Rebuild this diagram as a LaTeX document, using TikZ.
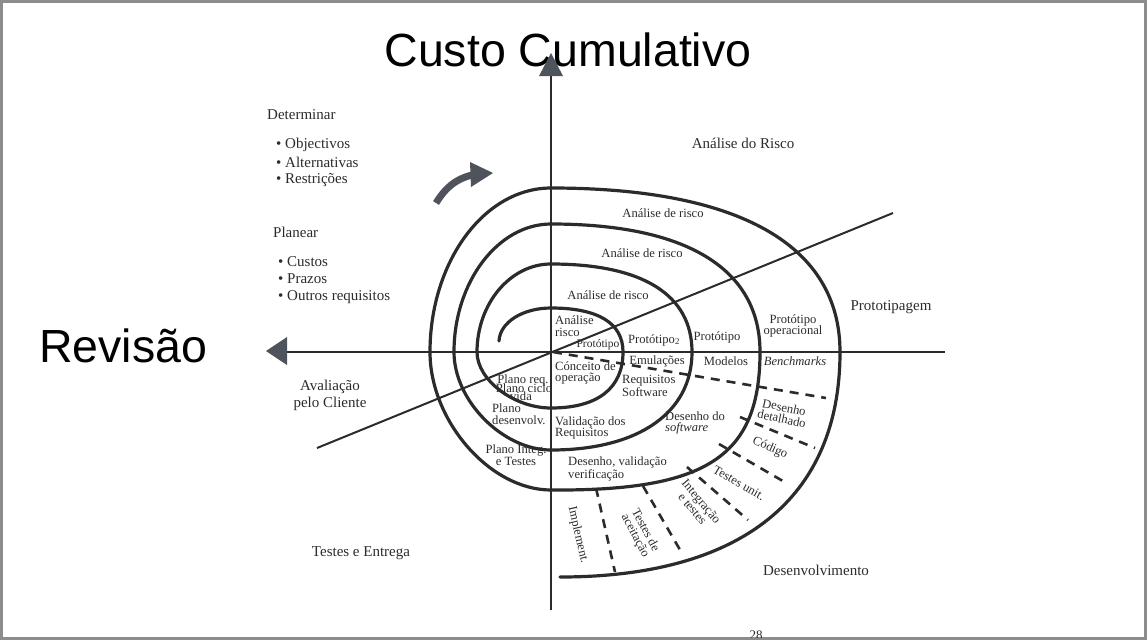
\documentclass[tikz,border=0pt]{standalone}
\usepackage{fontspec}
\setmainfont{Liberation Serif}
\newfontfamily\headfont{Liberation Sans}
\usetikzlibrary{calc}
\definecolor{ink}{HTML}{2B2B2B}
\definecolor{tipgray}{HTML}{4F535B}
\definecolor{framegray}{HTML}{8C8C8C}
\tikzset{
  spiral/.style={line width=3.2pt, draw=ink, line cap=round},
  axis/.style={line width=1.6pt, draw=ink},
  cutline/.style={line width=2.6pt, draw=ink, dash pattern=on 9pt off 7pt},
  lbl/.style={inner sep=0pt, text=ink, font=\fontsize{12.6}{11.5}\selectfont},
  biglbl/.style={inner sep=0pt, text=ink, font=\fontsize{15}{17}\selectfont},
  head/.style={inner sep=0pt, font=\headfont\fontsize{46.5}{50}\selectfont},
  tipfill/.style={fill=tipgray, draw=none}
}

\begin{document}
\begin{tikzpicture}[x=1pt,y=-1pt]
		%%%%% START %%%%%
		\useasboundingbox (0,0) rectangle (1147,643);
		\draw[framegray, line width=3pt] (1.5,1.5) rectangle (1145.5,638.5);
		
		% headings of the axes
		\node[head] (custo) at (568,50) {Custo Cumulativo};
		\node[head] (revisao) at (123,346) {Revisão};
		
		% axes and diagonal
		\draw[axis] (551,72) -- (551,610);
		\draw[axis] (284,352) -- (945,352);
		\draw[line width=2pt, ink] (317,448) -- (893,213);
		\fill[tipfill] (551,53) -- (563,76) -- (539,76) -- cycle;
		\fill[tipfill] (266,351) -- (287,337) -- (287,365) -- cycle;
		
		% turning arrow
		\draw[line width=7pt, tipgray] (436,203) .. controls (446,187) and (456,179) .. (472,175);
		\fill[tipfill] (470,162) -- (493,173) -- (471,187) -- cycle;
		
		% the spiral
		\draw[spiral] (499,341)
		  .. controls (500,322) and (523,308) .. (551,308)
		  .. controls (598,308) and (623,323) .. (623,352)
		  .. controls (623,388) and (598,408) .. (551,408)
		  .. controls (514,408) and (477,380) .. (477,352)
		  .. controls (477,304) and (510,264) .. (551,264)
		  .. controls (643,264) and (692,295) .. (692,352)
		  .. controls (692,413) and (638,450) .. (551,450)
		  .. controls (503,450) and (454,401) .. (454,352)
		  .. controls (454,282) and (498,224) .. (551,224)
		  .. controls (687,224) and (760,269) .. (760,352)
		  .. controls (760,458) and (705,491) .. (551,490)
		  .. controls (490,490) and (430,421) .. (430,352)
		  .. controls (430,262) and (484,188) .. (551,188)
		  .. controls (739,188) and (840,245) .. (840,352)
		  .. controls (840,498) and (742,577) .. (560,577);
		
		% dashed cuts of the development turn
		\draw[cutline] (553,352) -- (826,398);
		\draw[cutline] (740,417) -- (815,448);
		\draw[cutline] (719,444) -- (788,484);
		\draw[cutline] (687,467) -- (748,520);
		\draw[cutline] (643,486) -- (683,555);
		\draw[cutline] (596,488) -- (615,572);
		
		% quadrant texts
		\node[biglbl, anchor=west] (determinar) at (267,115) {Determinar};
		\node[biglbl, anchor=west] (objectivos) at (276,145) {\textbullet\ Objectivos};
		\node[biglbl, anchor=west] (alternativas) at (276,162) {\textbullet\ Alternativas};
		\node[biglbl, anchor=west] (restricoes) at (276,180) {\textbullet\ Restrições};
		\node[biglbl, anchor=west] (planear) at (273,232) {Planear};
		\node[biglbl, anchor=west] (custos) at (278,262) {\textbullet\ Custos};
		\node[biglbl, anchor=west] (prazos) at (278,279) {\textbullet\ Prazos};
		\node[biglbl, anchor=west] (outros) at (278,297) {\textbullet\ Outros requisitos};
		\node[biglbl] (risco) at (743,143) {Análise do Risco};
		\node[biglbl] (prototipagem) at (891,307) {Prototipagem};
		\node[biglbl, align=center] (avaliacao) at (330,395) {Avaliação\\pelo Cliente};
		\node[biglbl] (entrega) at (361,553) {Testes e Entrega};
		\node[biglbl] (desenv) at (816,570) {Desenvolvimento};
		
		% risk analysis, prototypes
		\node[lbl] (risco3) at (663,213) {Análise de risco};
		\node[lbl] (risco2) at (642,253) {Análise de risco};
		\node[lbl] (risco1) at (608,295) {Análise de risco};
		\node[lbl, anchor=west, align=left] (risco0) at (555,326) {Análise\\risco};
		\node[lbl, font=\fontsize{11.5}{11}\selectfont] (proto0) at (598,345) {Protótipo};
		\node[lbl] (proto1) at (654,340) {Protótipo\textsubscript{2}};
		\node[lbl] (proto2) at (717,337) {Protótipo};
		\node[lbl, align=center] (proto3) at (793,326) {Protótipo\\operacional};
		\node[lbl] (emul) at (657,361) {Emulações};
		\node[lbl] (modelos) at (726,361) {Modelos};
		\node[lbl] (bench) at (795,361) {\textit{Benchmarks}};
		
		% inner labels
		\node[lbl, anchor=west, align=left] (conceito) at (555,373) {Cónceito de\\operação};
		\node[lbl, anchor=west, align=left] (reqsw) at (622,386) {Requisitos\\Software};
		\node[lbl, anchor=west, align=left] (validreq) at (555,428) {Validação dos\\Requisitos};
		\node[lbl, anchor=west, align=left] (desval) at (568,469) {Desenho, validação\\verificação};
		\node[lbl, anchor=west, align=left] (dessw) at (665,423) {Desenho do\\\textit{software}};
		\node[lbl] (planoreq) at (523,380) {Plano req.};
		\node[lbl] (planociclo) at (524,388) {Plano ciclo};
		\node[lbl] (vida) at (521,396) {vida};
		\node[lbl, anchor=west, align=left] (planodes) at (492,414) {Plano\\desenvolv.};
		\node[lbl, align=center] (planoint) at (516,455) {Plano Integ.\\e Testes};
		
		% development steps
		\node[lbl, align=center, rotate=-12] (detalhe) at (783,413) {Desenho\\detalhado};
		\node[lbl, rotate=-24] (codigo) at (770,448) {Código};
		\node[lbl, rotate=-30] (unit) at (739,483) {Testes unit.};
		\node[lbl, align=center, rotate=-50] (integ) at (697,505) {Integração\\e testes};
		\node[lbl, align=center, rotate=-62] (aceit) at (640,533) {Testes de\\aceitação};
		\node[lbl, rotate=-77] (implem) at (578,535) {Implement.};
		
		\begin{scope}
		  \clip (0,0) rectangle (1147,637);
		  \node[lbl, font=\fontsize{13}{13}\selectfont] (pagina) at (756,635) {28};
		\end{scope}
		%%%%% END %%%%%
\end{tikzpicture}
\end{document}
